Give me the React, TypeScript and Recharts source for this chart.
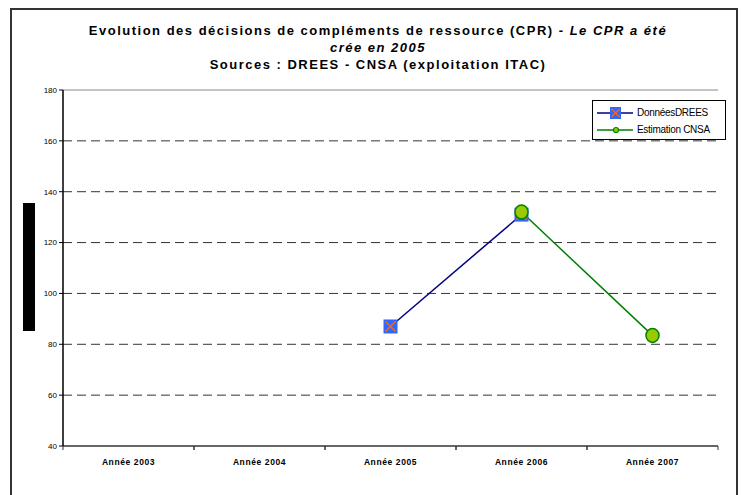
import React from "react";
import {
  LineChart,
  Line,
  XAxis,
  YAxis,
  CartesianGrid,
  ReferenceLine,
  Legend,
} from "recharts";

const years = ["Année 2003", "Année 2004", "Année 2005", "Année 2006", "Année 2007"];
const drees = [null, null, 87, 131, null];
const cnsa = [null, null, null, 132, 83.5];
const yTicks = [40, 60, 80, 100, 120, 140, 160, 180];
const gridValues = [60, 80, 100, 120, 140, 160];

const data = years.map((year, i) => ({ year, drees: drees[i], cnsa: cnsa[i] }));

const FONT = "'Liberation Sans', Arial, sans-serif";
const HALF_STEP = 65.5;

const SquareDot = (props: any) => {
  const { cx, cy, value, index } = props;
  if (value == null || cx == null || cy == null) return <g key={"d" + index} />;
  return (
    <g key={"d" + index}>
      <rect x={cx - 7} y={cy - 7} width={14} height={14} fill="#3366FF" />
      <path
        d={`M${cx - 5},${cy - 5}L${cx + 5},${cy + 5}M${cx + 5},${cy - 5}L${cx - 5},${cy + 5}`}
        stroke="#FF6600"
        strokeWidth={1.5}
      />
    </g>
  );
};

const CircleDot = (props: any) => {
  const { cx, cy, value, index } = props;
  if (value == null || cx == null || cy == null) return <g key={"c" + index} />;
  return (
    <ellipse
      key={"c" + index}
      cx={cx}
      cy={cy}
      rx={6.5}
      ry={7}
      fill="#99CC00"
      stroke="#008000"
      strokeWidth={1.5}
    />
  );
};

const XTick = (props: any) => {
  const { x, y, payload } = props;
  return (
    <g>
      <line x1={x - HALF_STEP} y1={y - 4} x2={x - HALF_STEP} y2={y} stroke="#333" />
      <line x1={x + HALF_STEP} y1={y - 4} x2={x + HALF_STEP} y2={y} stroke="#333" />
      <text
        x={x}
        y={y + 15}
        textAnchor="middle"
        fontSize={8.5}
        fontWeight="bold"
        letterSpacing={0.6}
        fill="#000"
        fontFamily={FONT}
      >
        {payload.value}
      </text>
    </g>
  );
};

const LegendBox = () => (
  <div
    style={{
      border: "1px solid #000",
      background: "#fff",
      width: 134,
      height: 40,
      boxSizing: "border-box",
      padding: "4px 0 0 3px",
      fontFamily: FONT,
      fontSize: 10,
      letterSpacing: -0.3,
    }}
  >
    <div style={{ display: "flex", alignItems: "center", height: 15 }}>
      <svg width={40} height={14}>
        <line x1={1} y1={7} x2={37} y2={7} stroke="#000080" strokeWidth={1.5} />
        <rect x={14} y={1} width={11} height={12} fill="#3366FF" />
        <path d="M15.5,3L23.5,11M23.5,3L15.5,11" stroke="#FF6600" strokeWidth={1.3} />
      </svg>
      <span style={{ marginLeft: 1 }}>DonnéesDREES</span>
    </div>
    <div style={{ display: "flex", alignItems: "center", height: 15, marginTop: 2 }}>
      <svg width={40} height={14}>
        <line x1={1} y1={7} x2={37} y2={7} stroke="#008000" strokeWidth={1.5} />
        <circle cx={20} cy={7} r={2.5} fill="#99CC00" stroke="#008000" strokeWidth={1.2} />
      </svg>
      <span style={{ marginLeft: 1 }}>Estimation CNSA</span>
    </div>
  </div>
);

export default function App() {
  return (
    <div
      style={{
        position: "absolute",
        left: 0,
        top: 0,
        width: 742,
        height: 495,
        background: "#fff",
        overflow: "hidden",
        fontFamily: FONT,
      }}
    >
      <div
        style={{
          position: "absolute",
          left: 10,
          top: 8,
          width: 724,
          height: 520,
          border: "2px solid #333",
        }}
      />
      <div
        style={{
          position: "absolute",
          left: 0,
          top: 22,
          width: 756,
          textAlign: "center",
          fontSize: 13,
          fontWeight: "bold",
          letterSpacing: 1.5,
          lineHeight: "17px",
          color: "#000",
        }}
      >
        <div>
          Evolution des décisions de compléments de ressource (CPR) -{" "}
          <i>Le CPR a été</i>
        </div>
        <div>
          <i>crée en 2005</i>
        </div>
        <div>Sources : DREES - CNSA (exploitation ITAC)</div>
      </div>
      <div
        style={{
          position: "absolute",
          left: 23,
          top: 203,
          width: 12,
          height: 128,
          background: "#000",
        }}
      />
      <div style={{ position: "absolute", left: 0, top: 0 }}>
        <LineChart
          width={742}
          height={495}
          data={data}
          margin={{ top: 90, right: 24, bottom: 19, left: 23 }}
        >
          <CartesianGrid
            vertical={false}
            horizontalValues={gridValues}
            stroke="#333"
            strokeDasharray="9 5"
          />
          <XAxis
            dataKey="year"
            padding={{ left: HALF_STEP, right: HALF_STEP }}
            tickLine={false}
            tickSize={4}
            tickMargin={0}
            axisLine={{ stroke: "#333", strokeWidth: 1.5 }}
            tick={<XTick />}
            interval={0}
            height={30}
          />
          <YAxis
            domain={[40, 180]}
            ticks={yTicks}
            width={40}
            tickSize={4}
            tickMargin={2}
            interval={0}
            axisLine={{ stroke: "#000", strokeWidth: 1.5 }}
            tickLine={{ stroke: "#000" }}
            tick={{ fontSize: 8, fill: "#000", fontFamily: FONT }}
          />
          <YAxis
            yAxisId="r"
            orientation="right"
            domain={[40, 180]}
            width={0}
            tick={false}
            tickLine={false}
            axisLine={{ stroke: "#888" }}
          />
          <ReferenceLine y={180} stroke="#888" strokeWidth={1} />
          <Line
            dataKey="drees"
            stroke="#000080"
            strokeWidth={1.5}
            dot={<SquareDot />}
            activeDot={false}
            isAnimationActive={false}
          />
          <Line
            dataKey="cnsa"
            stroke="#008000"
            strokeWidth={1.5}
            dot={<CircleDot />}
            activeDot={false}
            isAnimationActive={false}
          />
          <Legend
            layout="vertical"
            align="center"
            verticalAlign="middle"
            content={<LegendBox />}
            wrapperStyle={{ left: 592, top: 100, width: 134, height: 40 }}
          />
        </LineChart>
      </div>
    </div>
  );
}
